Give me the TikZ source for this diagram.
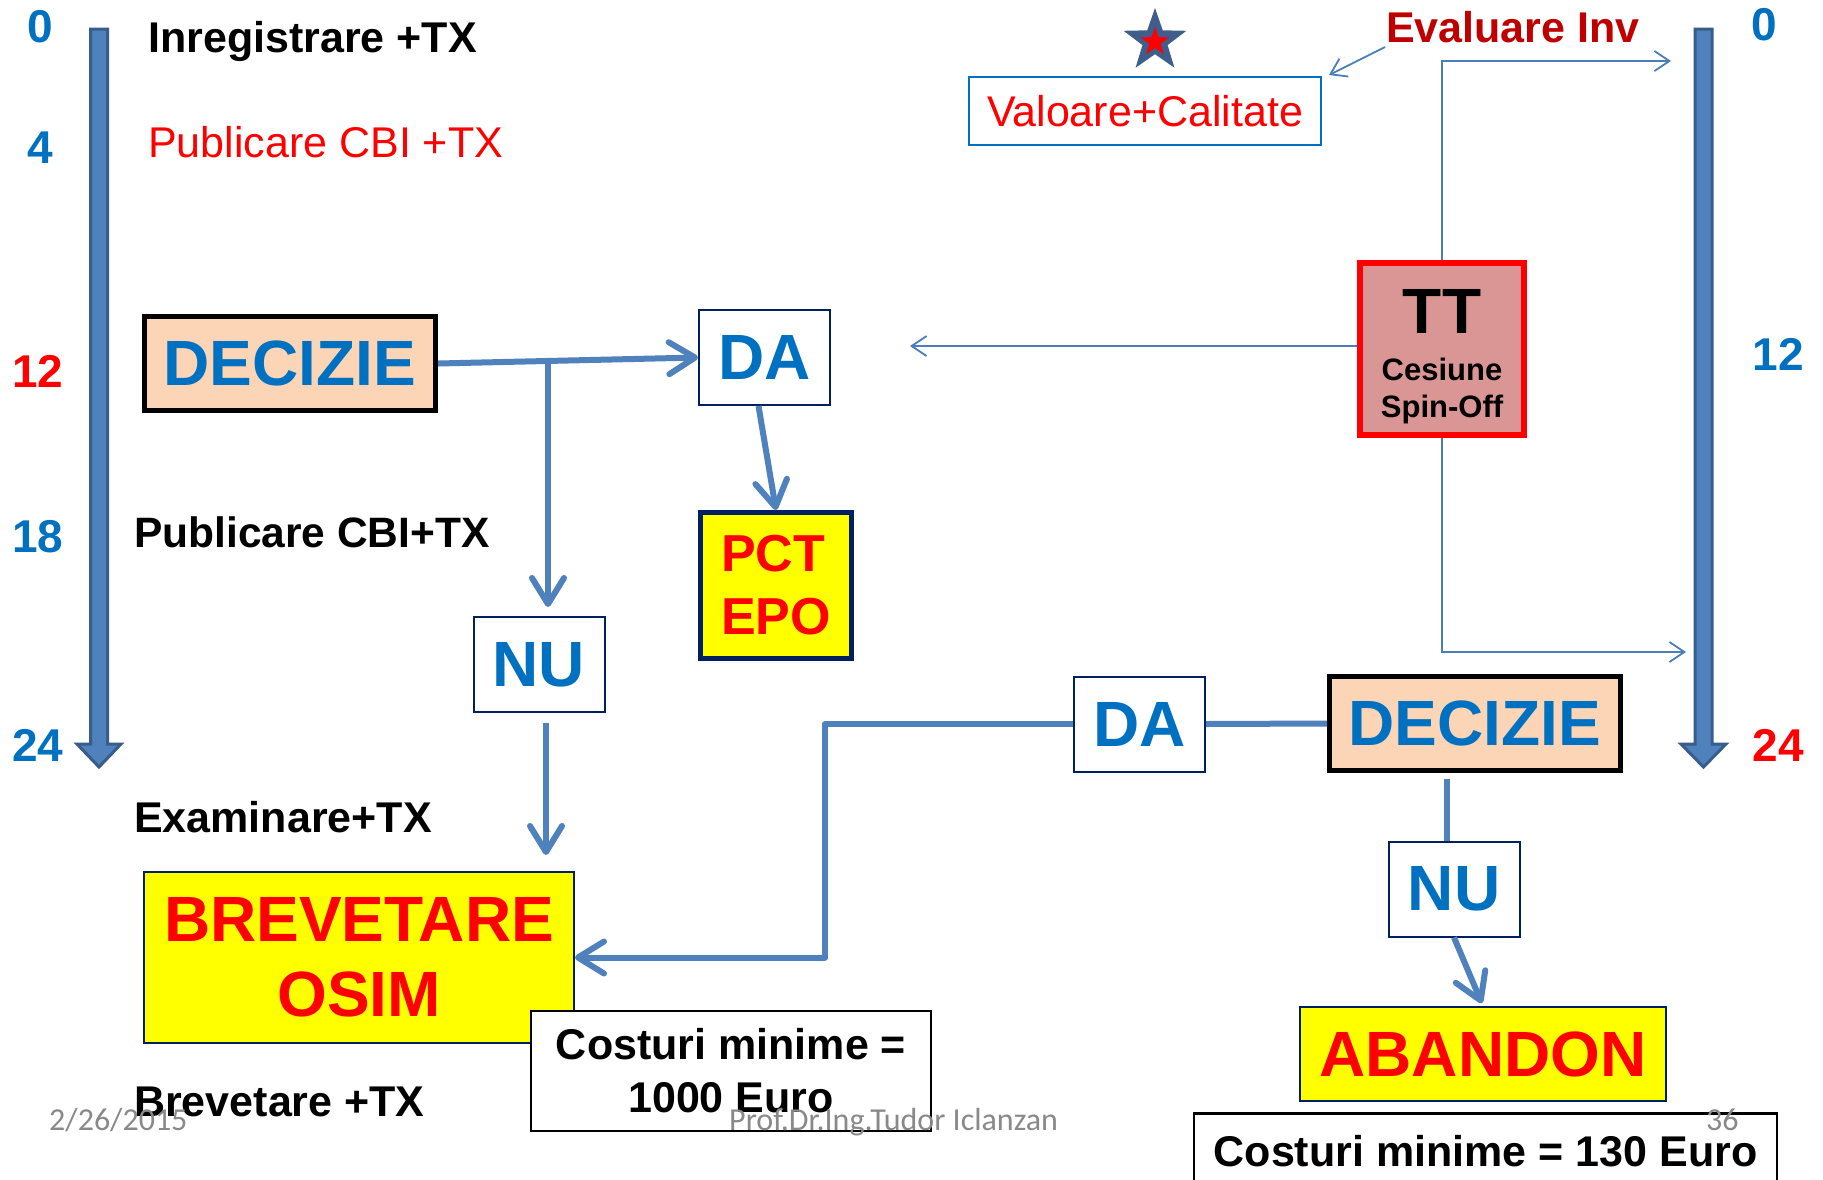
\documentclass[tikz,border=0pt]{standalone}
\usepackage{fontspec}
\setmainfont{Liberation Sans}
\newfontfamily\footfont{Carlito}
\usetikzlibrary{arrows.meta,shapes.geometric,calc}
\definecolor{bluetxt}{HTML}{0070C0}
\definecolor{redtxt}{HTML}{FF0000}
\definecolor{darkred}{HTML}{C00000}
\definecolor{peach}{HTML}{FBD5B5}
\definecolor{conn}{HTML}{4F81BD}
\definecolor{thinc}{HTML}{4A7EBB}
\definecolor{navy}{HTML}{002060}
\definecolor{barfill}{HTML}{4F81BD}
\definecolor{baredge}{HTML}{385D8A}
\definecolor{ttfill}{HTML}{D99694}
\definecolor{starblue}{HTML}{3F5E8C}
\definecolor{footgrey}{HTML}{898989}
\definecolor{yel}{HTML}{FFFF00}
\begin{document}
\begin{tikzpicture}[x=1pt,y=-1pt,
  big/.style={font=\fontsize{64}{75}\selectfont\bfseries},
  lbl/.style={inner sep=0pt, anchor=base west, font=\fontsize{43}{50}\selectfont\bfseries},
  num/.style={inner sep=0pt, anchor=base, font=\fontsize{46}{50}\selectfont\bfseries},
  yesno/.style={draw=navy, line width=2pt, fill=white, inner sep=0pt, minimum width=131pt, minimum height=95pt, text=bluetxt, big},
  decbox/.style={draw=black, line width=5pt, fill=peach, inner sep=0pt, minimum width=291pt, minimum height=94pt, text=bluetxt, big},
  goal/.style={draw=navy, fill=yel, inner sep=0pt, text=redtxt, align=center},
  costbox/.style={draw=black, line width=2.5pt, fill=white, inner sep=0pt, align=center, font=\fontsize{43}{53}\selectfont\bfseries},
  thickarr/.style={draw=conn, line width=6pt, line join=round, -{Straight Barb[length=26pt,width=32pt,round]}},
  thickline/.style={draw=conn, line width=6pt, line join=round},
  thinarr/.style={draw=thinc, line width=1.8pt, -{Straight Barb[length=15pt,width=20pt]}},
  timebar/.style={fill=barfill, draw=baredge, line width=3pt, line join=miter},
  foot/.style={inner sep=0pt, anchor=base west, text=footgrey, font=\fontsize{32}{36}\footfont},
  starshape/.style={star, star points=5, star point ratio=2.5, inner sep=0pt}
]
\useasboundingbox (0,0) rectangle (1823,1179);
\clip (0,0) rectangle (1823,1179);
\fill[white] (0,0) rectangle (1823,1179);

% time bars
\path[timebar] (90.5,29) -- (107.5,29) -- (107.5,744) -- (121,744) -- (99,767) -- (77,744) -- (90.5,744) -- cycle;
\path[timebar] (1695,29) -- (1712,29) -- (1712,744) -- (1726,744) -- (1703.5,767) -- (1681,744) -- (1695,744) -- cycle;

% month numbers
\node[num, text=bluetxt] (n0) at (40,42) {0};
\node[num, text=bluetxt] (n4) at (40,163) {4};
\node[num, text=redtxt] (n12) at (38,387) {12};
\node[num, text=bluetxt] (n18) at (38,552) {18};
\node[num, text=bluetxt] (n24) at (38,761) {24};
\node[num, text=bluetxt] (r0) at (1764,40) {0};
\node[num, text=bluetxt] (r12) at (1778,370) {12};
\node[num, text=redtxt] (r24) at (1778,761) {24};

% stage labels
\node[lbl] (inreg) at (148,52) {Inregistrare +TX};
\node[lbl, font=\fontsize{43}{50}\selectfont, text=redtxt] (pub1) at (148,157) {Publicare CBI +TX};
\node[lbl, font=\fontsize{42.5}{50}\selectfont\bfseries] (pub2) at (134,547) {Publicare CBI+TX};
\node[lbl] (exam) at (134,832) {Examinare+TX};
\node[lbl] (brevtx) at (134,1116) {Brevetare +TX};

% left flow
\node[decbox] (dec1) at (290,363.5) {DECIZIE};
\node[yesno] (da1) at (764.5,357.5) {DA};
\node[yesno] (nu1) at (539,664.5) {NU};
\node[goal, line width=5pt, minimum width=151pt, minimum height=146pt, align=left, font=\fontsize{52}{63}\selectfont\bfseries] (pct) at (776,585.5) {PCT\\EPO};
\node[goal, line width=2pt, minimum width=430pt, minimum height=171pt, big] (brev) at (359,957.5) {BREVETARE\\OSIM};
\node[costbox, minimum width=400pt, minimum height=120pt] (cost1) at (731,1071) {Costuri minime =\\1000 Euro};

% right side
\node[starshape, minimum size=66pt, fill=starblue] (star) at (1155,41) {};
\node[starshape, minimum size=30pt, fill=red] (starin) at (1155,42) {};
\node[lbl, text=darkred] (ev) at (1386,42) {Evaluare Inv};
\node[draw=bluetxt, line width=2pt, fill=white, inner sep=0pt, minimum width=352pt, minimum height=68pt, text=redtxt, font=\fontsize{43}{50}\selectfont] (val) at (1145,111) {Valoare+Calitate};
\node[draw=redtxt, line width=6pt, fill=ttfill, minimum width=164pt, minimum height=172pt, inner sep=0pt] (tt) at (1442,349) {};
\node[inner sep=0pt, anchor=base, font=\fontsize{64}{70}\selectfont\bfseries] (ttl) at ([yshift=16pt]tt.center) {TT};
\node[inner sep=0pt, anchor=base, font=\fontsize{31}{36}\selectfont\bfseries] (ces) at ([yshift=-31pt]tt.center) {Cesiune};
\node[inner sep=0pt, anchor=base, font=\fontsize{31}{36}\selectfont\bfseries] (spin) at ([yshift=-68pt]tt.center) {Spin-Off};

\node[yesno] (da2) at (1139.5,724) {DA};
\node[decbox] (dec2) at (1475,723.5) {DECIZIE};
\node[yesno] (nu2) at (1454,889) {NU};
\node[goal, line width=2pt, minimum width=366pt, minimum height=94pt, big] (aban) at (1483,1054) {ABANDON};
\node[costbox, minimum width=583pt, minimum height=75pt] (cost2) at (1485.5,1151) {Costuri minime = 130 Euro};

% thick connectors
\coordinate (br) at (548,361);
\draw[thickarr] (dec1.east) -- (da1.west);
\draw[thickarr, shorten >=9pt] (br) -- (br |- nu1.north);
\coordinate (nuo) at ([xshift=7pt,yshift=-10pt]nu1.south);
\draw[thickarr, shorten >=16pt] (nuo) -- (nuo |- brev.north);
\draw[thickarr] ([xshift=-6pt]da1.south) -- (pct.north);
\coordinate (turn) at (825,840);
\draw[thickarr] (da2.west) -| (turn) |- (brev.east);
\draw[thickline] (da2.east) -- (dec2.west);
\coordinate (d2s) at ([xshift=-28pt,yshift=-6pt]dec2.south);
\draw[thickline] (d2s) -- (d2s |- nu2.north);
\draw[thickarr, shorten >=3pt] (nu2.south) -- (aban.north);

% thin connectors
\coordinate (evtip) at (1671,61);
\draw[thinarr] (tt.north) |- (evtip);
\coordinate (datip) at (910,346);
\draw[thinarr] (tt.west |- datip) -- (datip);
\coordinate (bartip) at (1686,652);
\draw[thinarr] (tt.south) |- (bartip);
\draw[thinarr] ([shift={(-1,5)}]ev.base west) -- ([shift={(7,-1)}]val.north east);

% footer
\node[foot] (date) at (49,1130) {2/26/2015};
\node[foot] (author) at (729,1130) {Prof.Dr.Ing.Tudor Iclanzan};
\node[foot] (page) at (1706,1130) {36};
\end{tikzpicture}
\end{document}
